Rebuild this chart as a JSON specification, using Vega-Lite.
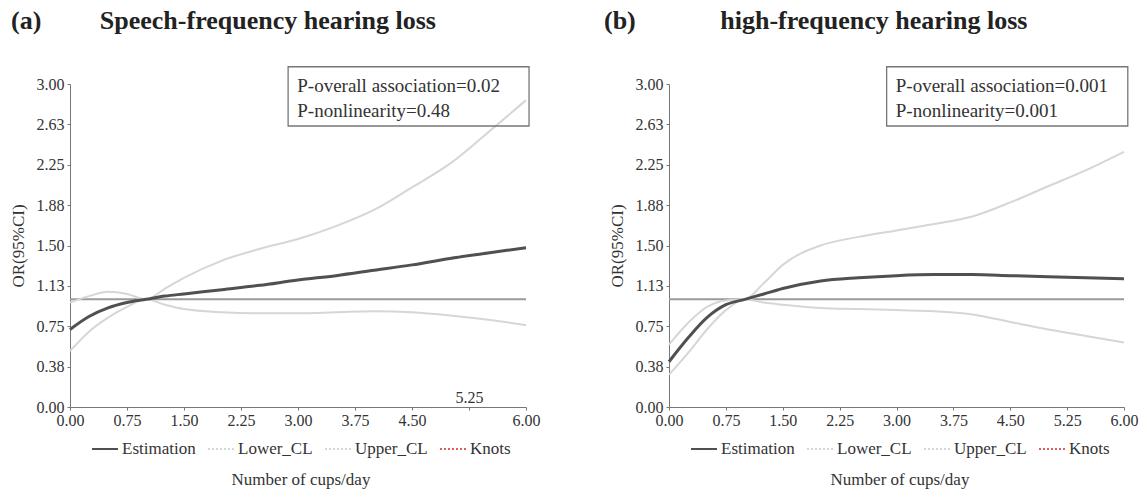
{
  "$schema": "https://vega.github.io/schema/vega-lite/v6.json",
  "padding": {"left": 9, "top": 8, "right": 5, "bottom": 2},
  "background": "white",
  "config": {
    "view": {"stroke": null},
    "font": "Liberation Serif, Times New Roman, DejaVu Serif, serif",
    "axis": {"labelFont": "Liberation Serif, Times New Roman, DejaVu Serif, serif", "labelFontSize": 16, "labelColor": "#333", "domainColor": "#777", "tickColor": "#777", "tickSize": 3, "grid": false, "titleFont": "Liberation Serif, Times New Roman, DejaVu Serif, serif", "titleFontWeight": "normal", "titleFontSize": 17, "titleColor": "#333"},
    "legend": {"orient": "none", "legendX": 21, "legendY": 351, "direction": "horizontal", "titleOrient": "bottom", "titleAnchor": "middle", "symbolType": "stroke", "symbolSize": 676, "symbolStrokeWidth": 2, "labelFont": "Liberation Serif, Times New Roman, DejaVu Serif, serif", "labelFontSize": 17, "labelColor": "#333", "titleFont": "Liberation Serif, Times New Roman, DejaVu Serif, serif", "titleFontSize": 17, "titleFontWeight": "normal", "titleColor": "#333", "columnPadding": 8, "labelOffset": 3, "titlePadding": 15}
  },
  "datasets": {
    "a": [
      {"x": 0, "series": "Estimation", "or": 0.72}, {"x": 0.25, "series": "Estimation", "or": 0.84}, {"x": 0.5, "series": "Estimation", "or": 0.92}, {"x": 0.75, "series": "Estimation", "or": 0.97}, {"x": 1, "series": "Estimation", "or": 1.0}, {"x": 1.25, "series": "Estimation", "or": 1.03}, {"x": 1.5, "series": "Estimation", "or": 1.05}, {"x": 2, "series": "Estimation", "or": 1.09}, {"x": 2.5, "series": "Estimation", "or": 1.13}, {"x": 3, "series": "Estimation", "or": 1.18}, {"x": 3.5, "series": "Estimation", "or": 1.22}, {"x": 4, "series": "Estimation", "or": 1.27}, {"x": 4.5, "series": "Estimation", "or": 1.32}, {"x": 5, "series": "Estimation", "or": 1.38}, {"x": 5.5, "series": "Estimation", "or": 1.43}, {"x": 6, "series": "Estimation", "or": 1.48},
      {"x": 0, "series": "Lower_CL", "or": 0.52}, {"x": 0.25, "series": "Lower_CL", "or": 0.70}, {"x": 0.5, "series": "Lower_CL", "or": 0.83}, {"x": 0.75, "series": "Lower_CL", "or": 0.93}, {"x": 1, "series": "Lower_CL", "or": 1.0}, {"x": 1.25, "series": "Lower_CL", "or": 0.95}, {"x": 1.5, "series": "Lower_CL", "or": 0.91}, {"x": 2, "series": "Lower_CL", "or": 0.88}, {"x": 2.5, "series": "Lower_CL", "or": 0.87}, {"x": 3, "series": "Lower_CL", "or": 0.87}, {"x": 3.5, "series": "Lower_CL", "or": 0.88}, {"x": 4, "series": "Lower_CL", "or": 0.89}, {"x": 4.5, "series": "Lower_CL", "or": 0.88}, {"x": 5, "series": "Lower_CL", "or": 0.85}, {"x": 5.5, "series": "Lower_CL", "or": 0.81}, {"x": 6, "series": "Lower_CL", "or": 0.76},
      {"x": 0, "series": "Upper_CL", "or": 0.97}, {"x": 0.25, "series": "Upper_CL", "or": 1.03}, {"x": 0.5, "series": "Upper_CL", "or": 1.07}, {"x": 0.75, "series": "Upper_CL", "or": 1.05}, {"x": 1, "series": "Upper_CL", "or": 1.0}, {"x": 1.25, "series": "Upper_CL", "or": 1.10}, {"x": 1.5, "series": "Upper_CL", "or": 1.20}, {"x": 2, "series": "Upper_CL", "or": 1.36}, {"x": 2.5, "series": "Upper_CL", "or": 1.47}, {"x": 3, "series": "Upper_CL", "or": 1.56}, {"x": 3.5, "series": "Upper_CL", "or": 1.68}, {"x": 4, "series": "Upper_CL", "or": 1.83}, {"x": 4.5, "series": "Upper_CL", "or": 2.04}, {"x": 5, "series": "Upper_CL", "or": 2.26}, {"x": 5.5, "series": "Upper_CL", "or": 2.55}, {"x": 6, "series": "Upper_CL", "or": 2.85}
    ],
    "b": [
      {"x": 0, "series": "Estimation", "or": 0.42}, {"x": 0.25, "series": "Estimation", "or": 0.64}, {"x": 0.5, "series": "Estimation", "or": 0.83}, {"x": 0.75, "series": "Estimation", "or": 0.95}, {"x": 1, "series": "Estimation", "or": 1.0}, {"x": 1.25, "series": "Estimation", "or": 1.05}, {"x": 1.5, "series": "Estimation", "or": 1.10}, {"x": 2, "series": "Estimation", "or": 1.17}, {"x": 2.5, "series": "Estimation", "or": 1.20}, {"x": 3, "series": "Estimation", "or": 1.22}, {"x": 3.5, "series": "Estimation", "or": 1.23}, {"x": 4, "series": "Estimation", "or": 1.23}, {"x": 4.5, "series": "Estimation", "or": 1.22}, {"x": 5, "series": "Estimation", "or": 1.21}, {"x": 5.5, "series": "Estimation", "or": 1.20}, {"x": 6, "series": "Estimation", "or": 1.19},
      {"x": 0, "series": "Lower_CL", "or": 0.30}, {"x": 0.25, "series": "Lower_CL", "or": 0.50}, {"x": 0.5, "series": "Lower_CL", "or": 0.72}, {"x": 0.75, "series": "Lower_CL", "or": 0.90}, {"x": 1, "series": "Lower_CL", "or": 1.0}, {"x": 1.25, "series": "Lower_CL", "or": 0.97}, {"x": 1.5, "series": "Lower_CL", "or": 0.95}, {"x": 2, "series": "Lower_CL", "or": 0.92}, {"x": 2.5, "series": "Lower_CL", "or": 0.91}, {"x": 3, "series": "Lower_CL", "or": 0.90}, {"x": 3.5, "series": "Lower_CL", "or": 0.89}, {"x": 4, "series": "Lower_CL", "or": 0.86}, {"x": 4.5, "series": "Lower_CL", "or": 0.79}, {"x": 5, "series": "Lower_CL", "or": 0.72}, {"x": 5.5, "series": "Lower_CL", "or": 0.66}, {"x": 6, "series": "Lower_CL", "or": 0.60},
      {"x": 0, "series": "Upper_CL", "or": 0.58}, {"x": 0.25, "series": "Upper_CL", "or": 0.78}, {"x": 0.5, "series": "Upper_CL", "or": 0.93}, {"x": 0.75, "series": "Upper_CL", "or": 0.99}, {"x": 1, "series": "Upper_CL", "or": 1.0}, {"x": 1.25, "series": "Upper_CL", "or": 1.15}, {"x": 1.5, "series": "Upper_CL", "or": 1.32}, {"x": 2, "series": "Upper_CL", "or": 1.50}, {"x": 2.5, "series": "Upper_CL", "or": 1.58}, {"x": 3, "series": "Upper_CL", "or": 1.64}, {"x": 3.5, "series": "Upper_CL", "or": 1.70}, {"x": 4, "series": "Upper_CL", "or": 1.77}, {"x": 4.5, "series": "Upper_CL", "or": 1.90}, {"x": 5, "series": "Upper_CL", "or": 2.05}, {"x": 5.5, "series": "Upper_CL", "or": 2.20}, {"x": 6, "series": "Upper_CL", "or": 2.37}
    ]
  },
  "spacing": 64,
  "resolve": {"scale": {"color": "independent"}, "legend": {"color": "independent"}},
  "hconcat": [
    {
      "width": 456, "height": 323,
      "title": {"text": "(a)\u00a0\u00a0\u00a0\u00a0\u00a0\u00a0\u00a0\u00a0\u00a0Speech-frequency hearing loss", "anchor": "start", "frame": "group", "dx": -59, "offset": 32, "fontSize": 26, "font": "Liberation Serif, Times New Roman, DejaVu Serif, serif", "fontWeight": "bold", "color": "#222"},
      "data": {"name": "a"},
      "encoding": {
        "x": {"field": "x", "type": "quantitative", "scale": {"domain": [0, 6], "nice": false, "zero": false},
              "axis": {"title": null, "values": [0, 0.75, 1.5, 2.25, 3, 3.75, 4.5, 5.25, 6], "format": ".2f", "labelFlush": false,
                       "labelPadding": {"condition": {"test": "datum.value == 5.25", "value": -21}, "value": 2}}},
        "y": {"field": "or", "type": "quantitative", "scale": {"domain": [0, 3], "nice": false},
              "axis": {"title": "OR(95%CI)", "values": [0, 0.375, 0.75, 1.125, 1.5, 1.875, 2.25, 2.625, 3], "format": ".2f", "labelPadding": 3, "titlePadding": 9}}
      },
      "layer": [
        {"transform": [{"filter": "datum.x === 0 && datum.series === 'Estimation'"}], "mark": {"type": "rule", "color": "#9a9a9a", "strokeWidth": 2}, "encoding": {"x": {"datum": 0}, "x2": {"datum": 6}, "y": {"datum": 1}}},
        {"transform": [{"filter": "datum.series !== 'Estimation'"}],
         "mark": {"type": "line", "interpolate": "monotone", "strokeWidth": 2},
         "encoding": {"detail": {"field": "series"}, "color": {"field": "series", "type": "nominal", "scale": {"domain": ["Estimation", "Lower_CL", "Upper_CL", "Knots"], "range": ["#505050", "#d6d6d6", "#d6d6d6", "#e06060"]},
           "legend": {"title": "Number of cups/day", "encode": {"symbols": {"update": {"strokeDash": {"signal": "datum.value === 'Estimation' ? [1,0] : [2,2]"}}}}}}}},
        {"transform": [{"filter": "datum.series === 'Estimation'"}],
         "mark": {"type": "line", "interpolate": "monotone", "strokeWidth": 3},
         "encoding": {"color": {"field": "series", "type": "nominal"}}},
        {"transform": [{"filter": "datum.x === 0 && datum.series === 'Estimation'"}], "mark": {"type": "rect", "fill": null, "stroke": "#777", "strokeWidth": 1.3}, "encoding": {"x": {"datum": 2.87}, "x2": {"datum": 6.04}, "y": {"datum": 3.16}, "y2": {"datum": 2.61}}},
        {"transform": [{"filter": "datum.x === 0 && datum.series === 'Estimation'"}], "mark": {"type": "text", "align": "left", "baseline": "middle", "font": "Liberation Serif, Times New Roman, DejaVu Serif, serif", "fontSize": 19, "color": "#333", "text": "P-overall association=0.02"}, "encoding": {"x": {"datum": 2.99}, "y": {"datum": 2.98}}},
        {"transform": [{"filter": "datum.x === 0 && datum.series === 'Estimation'"}], "mark": {"type": "text", "align": "left", "baseline": "middle", "font": "Liberation Serif, Times New Roman, DejaVu Serif, serif", "fontSize": 19, "color": "#333", "text": "P-nonlinearity=0.48"}, "encoding": {"x": {"datum": 2.99}, "y": {"datum": 2.75}}}
      ]
    },
    {
      "width": 455, "height": 323,
      "title": {"text": "(b)\u00a0\u00a0\u00a0\u00a0\u00a0\u00a0\u00a0\u00a0\u00a0\u00a0\u00a0\u00a0\u00a0high-frequency hearing loss", "anchor": "start", "frame": "group", "dx": -65, "offset": 32, "fontSize": 26, "font": "Liberation Serif, Times New Roman, DejaVu Serif, serif", "fontWeight": "bold", "color": "#222"},
      "data": {"name": "b"},
      "encoding": {
        "x": {"field": "x", "type": "quantitative", "scale": {"domain": [0, 6], "nice": false, "zero": false},
              "axis": {"title": null, "values": [0, 0.75, 1.5, 2.25, 3, 3.75, 4.5, 5.25, 6], "format": ".2f", "labelPadding": 2, "labelFlush": false}},
        "y": {"field": "or", "type": "quantitative", "scale": {"domain": [0, 3], "nice": false},
              "axis": {"title": "OR(95%CI)", "values": [0, 0.375, 0.75, 1.125, 1.5, 1.875, 2.25, 2.625, 3], "format": ".2f", "labelPadding": 3, "titlePadding": 9}}
      },
      "layer": [
        {"transform": [{"filter": "datum.x === 0 && datum.series === 'Estimation'"}], "mark": {"type": "rule", "color": "#9a9a9a", "strokeWidth": 2}, "encoding": {"x": {"datum": 0}, "x2": {"datum": 6}, "y": {"datum": 1}}},
        {"transform": [{"filter": "datum.series !== 'Estimation'"}],
         "mark": {"type": "line", "interpolate": "monotone", "strokeWidth": 2},
         "encoding": {"detail": {"field": "series"}, "color": {"field": "series", "type": "nominal", "scale": {"domain": ["Estimation", "Lower_CL", "Upper_CL", "Knots"], "range": ["#505050", "#d6d6d6", "#d6d6d6", "#e06060"]},
           "legend": {"title": "Number of cups/day", "encode": {"symbols": {"update": {"strokeDash": {"signal": "datum.value === 'Estimation' ? [1,0] : [2,2]"}}}}}}}},
        {"transform": [{"filter": "datum.series === 'Estimation'"}],
         "mark": {"type": "line", "interpolate": "monotone", "strokeWidth": 3},
         "encoding": {"color": {"field": "series", "type": "nominal"}}},
        {"transform": [{"filter": "datum.x === 0 && datum.series === 'Estimation'"}], "mark": {"type": "rect", "fill": null, "stroke": "#777", "strokeWidth": 1.3}, "encoding": {"x": {"datum": 2.87}, "x2": {"datum": 6.05}, "y": {"datum": 3.16}, "y2": {"datum": 2.61}}},
        {"transform": [{"filter": "datum.x === 0 && datum.series === 'Estimation'"}], "mark": {"type": "text", "align": "left", "baseline": "middle", "font": "Liberation Serif, Times New Roman, DejaVu Serif, serif", "fontSize": 19, "color": "#333", "text": "P-overall association=0.001"}, "encoding": {"x": {"datum": 2.99}, "y": {"datum": 2.98}}},
        {"transform": [{"filter": "datum.x === 0 && datum.series === 'Estimation'"}], "mark": {"type": "text", "align": "left", "baseline": "middle", "font": "Liberation Serif, Times New Roman, DejaVu Serif, serif", "fontSize": 19, "color": "#333", "text": "P-nonlinearity=0.001"}, "encoding": {"x": {"datum": 2.99}, "y": {"datum": 2.75}}}
      ]
    }
  ]
}
